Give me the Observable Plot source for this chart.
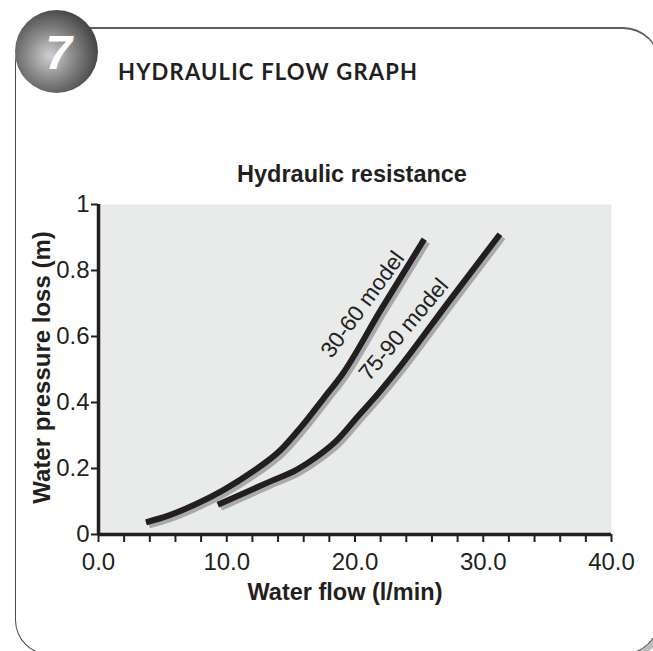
<!DOCTYPE html>
<html>
<head>
<meta charset="utf-8">
<script src="https://cdn.jsdelivr.net/npm/d3@7"></script>
<script src="https://cdn.jsdelivr.net/npm/@observablehq/plot@0.6"></script>
<style>
  html, body { margin: 0; padding: 0; background: #fff; overflow: hidden; }
  #page { position: relative; width: 653px; height: 651px; overflow: hidden; background: #fff; }
  #frame { position: absolute; left: 15px; top: 27px; width: 608px; height: 628px; box-sizing: border-box;
           border-left: 1.5px solid #4a4a4a; border-top: 2px solid #5e5e5e; border-bottom: 1.5px solid #4a4a4a;
           border-radius: 35px 0 0 35px; }
  #tr { position: absolute; left: 586px; top: 27px; width: 74px; height: 37px; box-sizing: border-box;
        border-top: 2px solid #5e5e5e; border-right: 1.5px solid #4a4a4a; border-top-right-radius: 37px 37px; }
  #br { position: absolute; left: 584px; top: 617px; width: 76px; height: 38px; box-sizing: border-box;
        border-bottom: 1.5px solid #4a4a4a; border-right: 1.5px solid #4a4a4a; border-bottom-right-radius: 38px 38px;
        box-shadow: 4px 4px 0 #bdbdbd; }
  #badge { position: absolute; left: 15px; top: 10px; width: 83px; height: 83px; border-radius: 50%;
           background: radial-gradient(circle at 42% 55%, #d0d0d0 0%, #8a8a8a 35%, #4a4a4a 70%, #2e2e2e 100%);
           color: #fff; font: italic bold 48px "Liberation Sans", Arial, sans-serif;
           display: flex; align-items: center; justify-content: center; z-index: 2; }
  #badge span { position: relative; top: 1px; left: 2px; }
  #heading { position: absolute; left: 118px; top: 61px; margin: 0; font: bold 22px Lato, "Open Sans", sans-serif;
             line-height: 22px; color: #231f20; letter-spacing: 1.2px; }
  #chart { position: absolute; left: 0; top: 0; }
</style>
</head>
<body>
<div id="page">
  <div id="frame"></div>
  <div id="tr"></div>
  <div id="br"></div>
  <div id="badge"><span>7</span></div>
  <h1 id="heading">HYDRAULIC FLOW GRAPH</h1>
  <div id="chart"></div>
</div>
<script>
// ---- data ----
const flow3060 = [3.7, 5.5, 7.7, 9.7, 12.0, 14.2, 15.8, 17.6, 19.0, 22.0, 25.4];
const loss3060 = [0.037, 0.058, 0.094, 0.134, 0.19, 0.256, 0.326, 0.415, 0.485, 0.68, 0.895];
const flow7590 = [9.3, 11.2, 13.4, 15.4, 17.0, 18.6, 20.2, 21.8, 23.3, 27.3, 31.3];
const loss7590 = [0.09, 0.123, 0.161, 0.195, 0.235, 0.286, 0.357, 0.427, 0.498, 0.705, 0.91];
const modelNames = ["30-60 model", "75-90 model"];
const labelFlow = [20.6, 23.8];
const labelLoss = [0.697, 0.621];
const labelAngle = [-54, -50];
const xTicks = d3.range(0, 41, 2);
const xLabelTicks = [0, 10, 20, 30, 40];
const yTicks = [0, 0.2, 0.4, 0.6, 0.8, 1];
const chartTitle = "Hydraulic resistance";
const xTitle = "Water flow (l/min)";
const yTitle = "Water pressure loss (m)";

const series = [
  ...flow3060.map((f, i) => ({model: modelNames[0], flow: f, loss: loss3060[i]})),
  ...flow7590.map((f, i) => ({model: modelNames[1], flow: f, loss: loss7590[i]}))
];
const labels = modelNames.map((m, i) => ({model: m, flow: labelFlow[i], loss: labelLoss[i], angle: labelAngle[i]}));

const ink = "#231f20";
const font = '"Liberation Sans", Arial, sans-serif';
const chart = Plot.plot({
  width: 653,
  height: 651,
  marginLeft: 98,
  marginRight: 42,
  marginTop: 204,
  marginBottom: 117,
  style: {fontFamily: font, fontSize: "24px", color: ink, background: "transparent", overflow: "visible"},
  x: {domain: [0, 40]},
  y: {domain: [0, 1]},
  marks: [
    Plot.frame({fill: "#e9eaea", stroke: "none"}),
    Plot.axisX({ticks: xTicks, tickSize: 8, tickPadding: 10, strokeWidth: 2,
                tickFormat: d => xLabelTicks.includes(d) ? d.toFixed(1) : "", fontSize: 24, fontFamily: font, label: null}),
    Plot.axisY({ticks: yTicks, tickSize: 7, tickPadding: 2, strokeWidth: 2, tickFormat: d => String(d),
                fontSize: 24, fontFamily: font, label: null}),
    Plot.ruleY([0], {stroke: ink, strokeWidth: 3.5}),
    Plot.ruleX([0], {stroke: ink, strokeWidth: 3.5}),
    Plot.line(series, {x: "flow", y: "loss", z: "model", curve: "monotone-x", stroke: "#a7a9ac",
                       strokeWidth: 6, strokeLinecap: "butt", dx: 3, dy: 3}),
    Plot.line(series, {x: "flow", y: "loss", z: "model", curve: "monotone-x", stroke: ink,
                       strokeWidth: 6, strokeLinecap: "butt"}),
    Plot.text(labels, {x: "flow", y: "loss", text: "model", rotate: "angle", fontSize: 22.5, fontFamily: font, fill: ink}),
    Plot.text([chartTitle], {frameAnchor: "top", lineAnchor: "top", dy: -39, dx: -3, fontWeight: "bold", fontSize: 23.5, fontFamily: font, fill: ink}),
    Plot.text([xTitle], {frameAnchor: "bottom", lineAnchor: "bottom", dy: 65, dx: -10, fontWeight: "bold", fontSize: 23.5, fontFamily: font, fill: ink}),
    Plot.text([yTitle], {frameAnchor: "left", textAnchor: "middle", lineAnchor: "middle", dx: -56, dy: -2, rotate: -90,
                         fontWeight: "bold", fontSize: 24, fontFamily: font, fill: ink})
  ]
});
document.getElementById("chart").appendChild(chart);
</script>
</body>
</html>
